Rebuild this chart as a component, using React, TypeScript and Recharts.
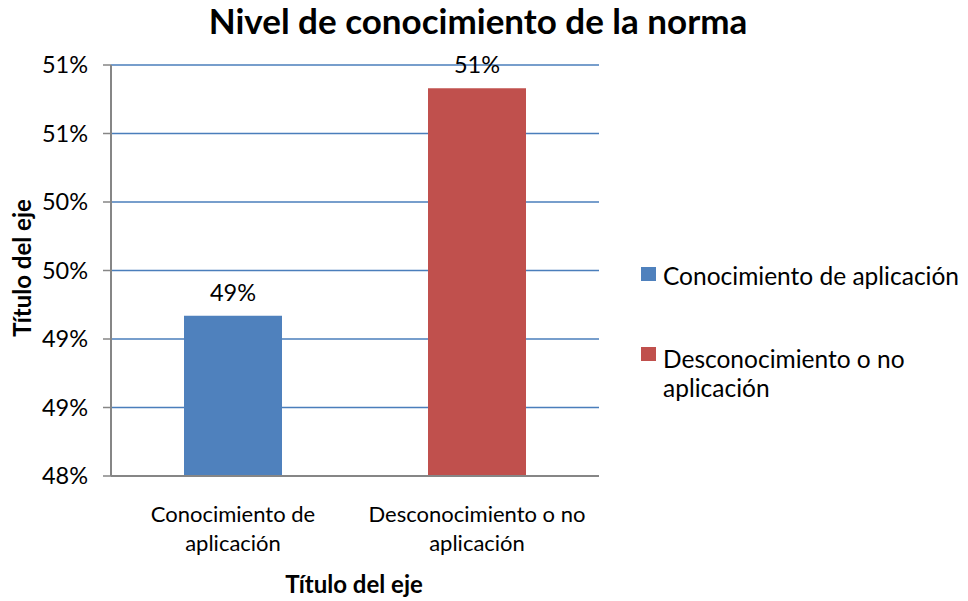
import React from "react";
import { BarChart, Bar, XAxis, YAxis, CartesianGrid, Cell, LabelList } from "recharts";

const categories = ["Conocimiento de aplicación", "Desconocimiento o no aplicación"];
const categoryLines = [["Conocimiento de", "aplicación"], ["Desconocimiento o no", "aplicación"]];
const legendLines = [["Conocimiento de aplicación"], ["Desconocimiento o no", "aplicación"]];
const values = [49.17, 50.83];
const colors = ["#4F81BD", "#C0504D"];
const yTicks = [48, 48.5, 49, 49.5, 50, 50.5, 51];
const chartTitle = "Nivel de conocimiento de la norma";
const xTitle = "Título del eje";
const yTitle = "Título del eje";

const data = categories.map((c, i) => ({ name: c, value: values[i] }));

const FONT = "Lato, 'Open Sans', sans-serif";

const XTick = (props: any) => {
  const { x, y, payload } = props;
  const idx = categories.indexOf(payload.value);
  const lines = idx >= 0 ? categoryLines[idx] : [payload.value];
  return (
    <text x={x} y={y} textAnchor="middle" fill="#000" fontSize={22} fontFamily={FONT}>
      {lines.map((l: string, i: number) => (
        <tspan key={i} x={x} dy={i === 0 ? 44 : 29}>{l}</tspan>
      ))}
    </text>
  );
};

const legendSquareY = [267, 347];
const legendBaselines = [[285], [368, 397]];

export default function App() {
  return (
    <div style={{ position: "absolute", left: 0, top: 0, width: 968, height: 601, background: "#fff" }}>
      <BarChart width={968} height={601} data={data} margin={{ top: 65, right: 369, bottom: 0, left: 0 }} barCategoryGap={0}>
        <CartesianGrid horizontal vertical={false} stroke="#4A7EBB" strokeWidth={1.5} />
        <XAxis
          dataKey="name"
          height={125}
          tick={<XTick />}
          tickLine={false}
          tickSize={0}
          axisLine={{ stroke: "#868686", strokeWidth: 2 }}
          interval={0}
        />
        <YAxis
          width={111}
          domain={[48, 51]}
          ticks={yTicks}
          allowDataOverflow
          tickFormatter={(v: number) => `${Math.round(v)}%`}
          tick={{ fill: "#000", fontSize: 23.5, fontFamily: FONT }}
          tickSize={8}
          tickMargin={15}
          tickLine={{ stroke: "#868686", strokeWidth: 1.5 }}
          axisLine={{ stroke: "#868686", strokeWidth: 2 }}
        />
        <Bar dataKey="value" barSize={98} isAnimationActive={false}>
          {data.map((d, i) => (
            <Cell key={i} fill={colors[i]} />
          ))}
          <LabelList
            dataKey="value"
            position="top"
            offset={15}
            formatter={(v: any) => `${Math.round(Number(v))}%`}
            style={{ fill: "#000", fontSize: 23.5, fontFamily: FONT }}
          />
        </Bar>
      </BarChart>
      <svg width={968} height={601} style={{ position: "absolute", left: 0, top: 0, pointerEvents: "none" }}>
        <text x={478} y={34} textAnchor="middle" fontFamily={FONT} fontWeight={700} fontSize={35} fill="#000">
          {chartTitle}
        </text>
        <text x={354} y={593} textAnchor="middle" fontFamily={FONT} fontWeight={700} fontSize={24} fill="#000">
          {xTitle}
        </text>
        <text x={31} y={268} textAnchor="middle" fontFamily={FONT} fontWeight={700} fontSize={24} fill="#000" transform="rotate(-90 31 268)">
          {yTitle}
        </text>
        {legendLines.map((lines, i) => (
          <g key={i}>
            <rect x={641} y={legendSquareY[i]} width={15} height={14} fill={colors[i]} />
            {lines.map((l, j) => (
              <text key={j} x={663} y={legendBaselines[i][j]} fontFamily={FONT} fontSize={24.5} fill="#000">
                {l}
              </text>
            ))}
          </g>
        ))}
      </svg>
    </div>
  );
}
